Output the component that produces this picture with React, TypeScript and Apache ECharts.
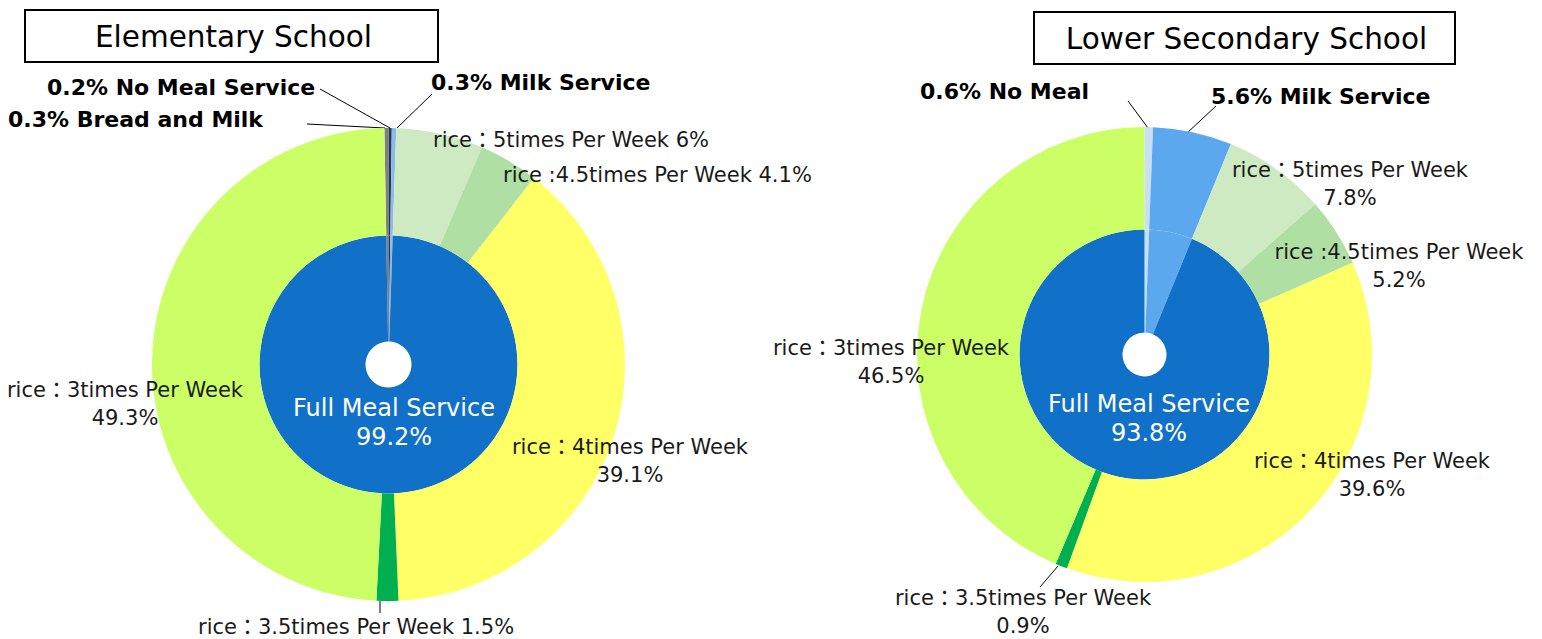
import React, { useEffect, useRef } from 'react';
import * as echarts from 'echarts';

// ---------- data ----------
const riceCategories = [
  'rice：5times Per Week',
  'rice :4.5times Per Week',
  'rice：4times Per Week',
  'rice：3.5times Per Week',
  'rice：3times Per Week',
];

const elemOtherNames = ['Bread and Milk', 'No Meal Service', 'Milk Service'];
const elemOtherValues = [0.3, 0.2, 0.3];
const elemFullMeal = 99.2;
const elemRiceValues = [6, 4.1, 39.1, 1.5, 49.3];

const secOtherNames = ['No Meal', 'Milk Service'];
const secOtherValues = [0.6, 5.6];
const secFullMeal = 93.8;
const secRiceValues = [7.8, 5.2, 39.6, 0.9, 46.5];

const fullMealName = 'Full Meal Service';

// ---------- styles ----------
const FONT = '"DejaVu Sans", "Noto Sans CJK JP", sans-serif';
const riceColors = ['#CDEAC2', '#B0DFA3', '#FFFF66', '#00B050', '#CCFF66'];
const elemOtherColors = ['#7F7F7F', '#1F3A5F', '#8EB8E8'];
const secOtherColors = ['#C8DFF7', '#5BA8EE'];
const fullMealColor = '#1170C8';

type LabelPos = {
  x: number;
  y: number;
  align: 'left' | 'center' | 'right';
  line?: number[][];
  oneLine?: boolean;
};

// label placement (layout only)
const elemLabelPos: Record<string, LabelPos> = {
  'Bread and Milk': { x: 8, y: 119, align: 'left', line: [[385, 128], [307, 124], [307, 124]] },
  'No Meal Service': { x: 47, y: 87, align: 'left', line: [[390, 128], [320, 89], [320, 89]] },
  'Milk Service': { x: 431, y: 82, align: 'left', line: [[397, 128], [432, 94], [432, 94]] },
  'rice：5times Per Week': { x: 433, y: 140, align: 'left', oneLine: true },
  'rice :4.5times Per Week': { x: 503, y: 175, align: 'left', oneLine: true },
  'rice：4times Per Week': { x: 630, y: 461, align: 'center' },
  'rice：3.5times Per Week': { x: 198, y: 627, align: 'left', oneLine: true, line: [[380, 601], [380, 613], [380, 613]] },
  'rice：3times Per Week': { x: 125, y: 404, align: 'center' },
  'Full Meal Service': { x: 394, y: 422, align: 'center' },
};

const secLabelPos: Record<string, LabelPos> = {
  'No Meal': { x: 920, y: 91, align: 'left', line: [[1148, 128], [1128, 101], [1128, 101]] },
  'Milk Service': { x: 1211, y: 96, align: 'left', line: [[1187, 133], [1216, 106], [1216, 106]] },
  'rice：5times Per Week': { x: 1350, y: 184, align: 'center' },
  'rice :4.5times Per Week': { x: 1399, y: 266, align: 'center' },
  'rice：4times Per Week': { x: 1372, y: 475, align: 'center' },
  'rice：3.5times Per Week': { x: 1023, y: 612, align: 'center', line: [[1058, 566], [1040, 587], [1040, 587]] },
  'rice：3times Per Week': { x: 891, y: 362, align: 'center' },
  'Full Meal Service': { x: 1149, y: 418, align: 'center' },
};

function buildChart(
  otherNames: string[],
  otherValues: number[],
  otherColors: string[],
  fullMeal: number,
  riceValues: number[],
  labelPos: Record<string, LabelPos>,
  center: [number, number],
  rHole: number,
  rInner: number,
  rOuter: number,
  startAngle: number
) {
  const innerData = [
    ...otherNames.map((n, i) => ({
      name: n,
      value: otherValues[i],
      itemStyle: { color: otherColors[i] },
      label: { show: false },
      labelLine: { show: false },
    })),
    {
      name: fullMealName,
      value: fullMeal,
      itemStyle: { color: fullMealColor },
      label: {
        show: true,
        formatter: `${fullMealName}\n${fullMeal}%`,
        color: '#FFFFFF',
        fontSize: 24,
        lineHeight: 29,
        fontFamily: FONT,
      },
      labelLine: { show: false },
    },
  ];

  const outerData = [
    ...otherNames.map((n, i) => ({
      name: n,
      value: otherValues[i],
      itemStyle: { color: otherColors[i] },
      label: {
        show: true,
        formatter: `${otherValues[i]}% ${n}`,
        color: '#000000',
        fontSize: 22,
        fontWeight: 'bold',
        fontFamily: FONT,
      },
      labelLine: { show: !!labelPos[n].line, lineStyle: { color: '#000', width: 1 } },
    })),
    ...riceCategories.map((n, i) => ({
      name: n,
      value: (riceValues[i] * fullMeal) / 100,
      itemStyle: { color: riceColors[i] },
      label: {
        show: true,
        formatter: labelPos[n].oneLine ? `${n} ${riceValues[i]}%` : `${n}\n${riceValues[i]}%`,
        color: '#1A1A1A',
        fontSize: 21,
        lineHeight: 28,
        fontFamily: FONT,
      },
      labelLine: { show: !!labelPos[n].line, lineStyle: { color: '#000', width: 1 } },
    })),
  ];

  const layoutFn = (data: any[]) => (params: any) => {
    const name = data[params.dataIndex]?.name;
    const p = labelPos[name];
    if (!p) return {};
    const res: any = { x: p.x, y: p.y, align: p.align, verticalAlign: 'middle' };
    if (p.line) res.labelLinePoints = p.line;
    return res;
  };

  return [
    {
      type: 'pie',
      center,
      radius: [rHole, rInner],
      startAngle,
      clockwise: true,
      avoidLabelOverlap: false,
      label: { position: 'inside' },
      itemStyle: { borderWidth: 0 },
      emphasis: { disabled: true },
      data: innerData,
      labelLayout: layoutFn(innerData),
    },
    {
      type: 'pie',
      center,
      radius: [rInner, rOuter],
      startAngle,
      clockwise: true,
      avoidLabelOverlap: false,
      label: { position: 'outside' },
      labelLine: { length: 5, length2: 5 },
      itemStyle: { borderWidth: 0 },
      emphasis: { disabled: true },
      data: outerData,
      labelLayout: layoutFn(outerData),
    },
  ];
}

export default function App() {
  const ref = useRef<HTMLDivElement>(null);

  useEffect(() => {
    if (!ref.current) return;
    const chart = echarts.init(ref.current, undefined, { renderer: 'svg' });

    const titleBox = (x: number, y: number, w: number, h: number, text: string) => ({
      type: 'group',
      children: [
        {
          type: 'rect',
          shape: { x, y, width: w, height: h },
          style: { fill: '#FFFFFF', stroke: '#000000', lineWidth: 2 },
        },
        {
          type: 'text',
          x: x + w / 2 + 2,
          y: y + h / 2 + 1,
          style: {
            text,
            fill: '#000000',
            fontSize: 29.5,
            fontFamily: FONT,
            textAlign: 'center',
            textVerticalAlign: 'middle',
          },
        },
      ],
    });

    const option: any = {
      animation: false,
      backgroundColor: '#FFFFFF',
      graphic: [
        titleBox(25, 10, 413, 52, 'Elementary School'),
        titleBox(1034, 12, 421, 52, 'Lower Secondary School'),
      ],
      series: [
        ...buildChart(
          elemOtherNames, elemOtherValues, elemOtherColors, elemFullMeal, elemRiceValues,
          elemLabelPos, [388.5, 364.5], 23, 129, 236.5, 91
        ),
        ...buildChart(
          secOtherNames, secOtherValues, secOtherColors, secFullMeal, secRiceValues,
          secLabelPos, [1144.5, 354.5], 22, 125, 227.5, 90
        ),
      ],
    };
    chart.setOption(option);
    return () => chart.dispose();
  }, []);

  return (
    <div
      ref={ref}
      style={{ position: 'fixed', left: 0, top: 0, width: 1542, height: 639, background: '#fff' }}
    />
  );
}
